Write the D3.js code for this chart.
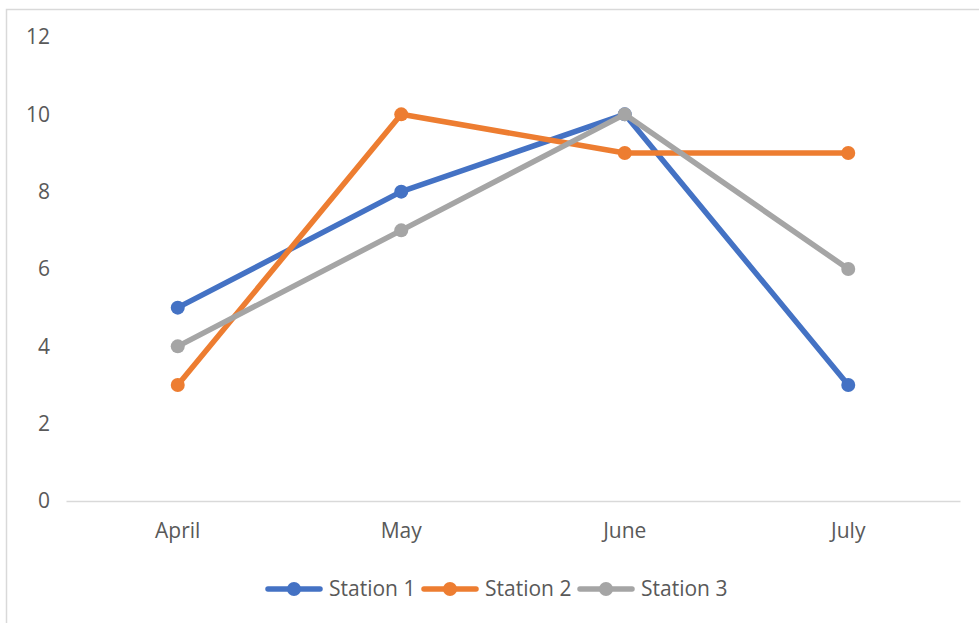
<!DOCTYPE html>
<html>
<head>
<meta charset="utf-8">
<script src="https://cdn.jsdelivr.net/npm/d3@7"></script>
<style>
  body { margin: 0; background: #fff; }
  svg text { font-family: "Open Sans", "Noto Sans", sans-serif; fill: #595959; }
</style>
</head>
<body>
<svg class="canvas"></svg>
<script>
const months = ['April', 'May', 'June', 'July'];
const station1 = [5, 8, 10, 3];
const station2 = [3, 10, 9, 9];
const station3 = [4, 7, 10, 6];
const seriesNames = ['Station 1', 'Station 2', 'Station 3'];
const colors = ['#4472C4', '#ED7D31', '#A5A5A5'];
const yTicks = [0, 2, 4, 6, 8, 10, 12];

const w = 979;
const h = 623;

const svg = d3.select('svg.canvas')
    .attr('width', w)
    .attr('height', h);

// chart frame
svg.append('rect')
    .attr('x', 6.5)
    .attr('y', 9.5)
    .attr('width', w + 10)
    .attr('height', h + 10)
    .attr('fill', 'none')
    .attr('stroke', '#d9d9d9')
    .attr('stroke-width', 1.5);

const xScale = d3.scaleBand()
    .domain(months)
    .range([66, 960]);

const yScale = d3.scaleLinear()
    .domain([0, 12])
    .range([501, 37]);

// y labels, no gridlines
svg.append('g')
    .selectAll('text')
    .data(yTicks)
    .enter()
    .append('text')
    .attr('x', 50)
    .attr('y', d => yScale(d))
    .attr('dy', '0.35em')
    .attr('text-anchor', 'end')
    .style('font-size', '21px')
    .text(d => d);

// baseline + category labels
let xAxis = d3.axisBottom(xScale).tickSize(0).tickPadding(22);
let xg = svg.append('g')
    .attr('transform', 'translate(0, ' + yScale(0) + ')')
    .call(xAxis);
xg.select('.domain').attr('stroke', '#d9d9d9').attr('stroke-width', 1.5);
xg.selectAll('text')
    .style('font-size', '21px')
    .attr('fill', '#595959');

const series = [station1, station2, station3];
const line = d3.line()
    .x((d, i) => xScale(months[i]) + xScale.bandwidth() / 2)
    .y(d => yScale(d));

series.forEach((values, s) => {
    svg.append('path')
        .datum(values)
        .attr('d', line)
        .attr('fill', 'none')
        .attr('stroke', colors[s])
        .attr('stroke-width', 5.5)
        .attr('stroke-linejoin', 'round')
        .attr('stroke-linecap', 'round');
    svg.selectAll('.dot' + s)
        .data(values)
        .enter()
        .append('circle')
        .attr('class', 'dot' + s)
        .attr('cx', (d, i) => xScale(months[i]) + xScale.bandwidth() / 2)
        .attr('cy', d => yScale(d))
        .attr('r', 7)
        .attr('fill', colors[s]);
});

// legend
const legendX = [266, 422, 578];
const legend = svg.append('g').attr('transform', 'translate(0, 589)');
seriesNames.forEach((name, s) => {
    let g = legend.append('g').attr('transform', 'translate(' + legendX[s] + ', 0)');
    g.append('line')
        .attr('x1', 2).attr('x2', 54)
        .attr('stroke', colors[s])
        .attr('stroke-width', 5.5)
        .attr('stroke-linecap', 'round');
    g.append('circle')
        .attr('cx', 28)
        .attr('r', 7)
        .attr('fill', colors[s]);
    g.append('text')
        .attr('x', 63)
        .attr('dy', '0.35em')
        .style('font-size', '21px')
        .text(name);
});
</script>
</body>
</html>
